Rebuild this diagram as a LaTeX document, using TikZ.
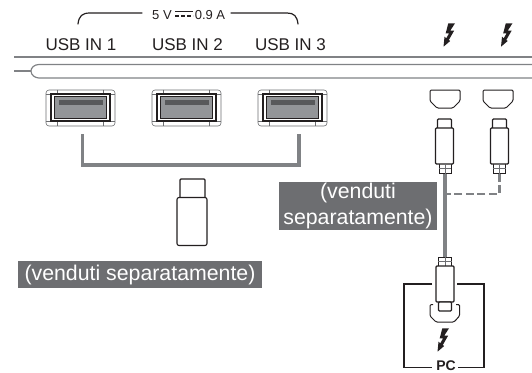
\documentclass[tikz,border=0pt]{standalone}
\usepackage{fontspec}
\setmainfont{Liberation Sans}
\definecolor{gline}{HTML}{6D6E71}
\definecolor{gwire}{HTML}{808285}
\definecolor{gfill}{HTML}{939598}
\definecolor{gdark}{HTML}{58595B}
\definecolor{ink}{HTML}{231F20}
\tikzset{
  usbout/.style={draw=gline,line width=.6pt,rounded corners=3pt,minimum width=69pt,minimum height=36pt,inner sep=0pt,fill=white},
  usbin/.style={draw=ink,line width=1.1pt,fill=white,minimum width=59pt,minimum height=27pt,inner sep=0pt},
  usbfill/.style={draw=ink,line width=.5pt,fill=gfill,minimum width=52pt,minimum height=22pt,inner sep=0pt},
  usbslot/.style={fill=gdark,minimum width=44pt,minimum height=5pt,inner sep=0pt},
  portlabel/.style={font=\fontsize{17}{18}\selectfont,text=ink,inner sep=0pt},
  smalllabel/.style={font=\fontsize{13}{14}\selectfont,text=ink,inner sep=0pt},
  graytag/.style={fill=gline,text=white,font=\fontsize{21.3}{26}\selectfont,inner sep=0pt,align=center},
  wire/.style={draw=gwire,line width=3.2pt},
  thin line/.style={draw=ink,line width=1.2pt,line cap=round},
  body/.style={draw=ink,line width=1.1pt,fill=white,rounded corners=1pt,inner sep=0pt},
  tipbox/.style={draw=ink,line width=.7pt,fill=white,inner sep=0pt,minimum width=12pt,minimum height=9pt},
  boltshape/.pic={\fill[ink] (-1.2,-11.7)--(5.5,-11.7)--(.7,-4.3)--(4.6,-4.3)--(-.7,5)--(.7,6)--(-6,11.7)--(-5,1.7)--(-3.3,3.3)--(-.4,-1.7)--(-3.8,-1.7)--cycle;},
  hdmishape/.pic={\draw[ink,line width=1pt,fill=white,rounded corners=1.2pt] (-15,-9)--(15,-9)--(15,2)--(8,9)--(-8,9)--(-15,2)--cycle;}
}
\begin{document}
\begin{tikzpicture}[x=1pt,y=-1pt]
\useasboundingbox (0,0) rectangle (532,372);
% bracket and voltage
\node[smalllabel] (v1) at (162,15.5) {5 V};
\node[smalllabel] (v2) at (210,15.5) {0.9 A};
\coordinate (bl) at (78,24);
\coordinate (br) at (298,24);
\draw[thin line] (bl) .. controls (79,16) and (82,13) .. (90,13) -- (142,13);
\draw[thin line] (231,13) -- (287,13) .. controls (294,13) and (297,16) .. (br);
\draw[ink,line width=1.3pt] (175,11.5) -- (193,11.5);
\draw[ink,line width=1.3pt,dash pattern=on 4pt off 2pt] (175,16) -- (193,16);
% labels
\node[portlabel] (u1) at (81,44.5) {USB IN 1};
\node[portlabel] (u2) at (187.5,44.5) {USB IN 2};
\node[portlabel] (u3) at (290.5,44.5) {USB IN 3};
% monitor edge
\draw[gwire,line width=2.2pt] (14,57) -- (532,57);
\draw[gwire,line width=1.2pt] (14,71) -- (31,71);
\draw[gwire,line width=1.2pt] (532,64.5) -- (39,64.5) .. controls (34,64.5) and (31,68) .. (31,71) .. controls (31,75) and (35,78) .. (39,78) -- (532,78);
% USB ports and joining wire
\node[usbout] (p1) at (80.5,108) {};
\node[usbout] (p2) at (186.5,108) {};
\node[usbout] (p3) at (292.5,108) {};
\coordinate (wa) at (82.5,134);
\coordinate (wb) at (299,134);
\draw[wire] (wa) |- (299,165) -- (wb);
\foreach \c in {p1,p2,p3}{
  \draw[gline,line width=.5pt] ([xshift=-23pt]\c.north) -- ([xshift=-23pt]\c.south);
  \draw[gline,line width=.5pt] ([xshift=23pt]\c.north) -- ([xshift=23pt]\c.south);
  \draw[gline,line width=.5pt] ([yshift=-5pt]\c.north west) -- ([yshift=-5pt]\c.north east);
  \draw[gline,line width=.5pt] ([yshift=5pt]\c.south west) -- ([yshift=5pt]\c.south east);
  \node[usbin] (\c i) at ([yshift=.5pt]\c.center) {};
  \node[usbfill] (\c f) at (\c i) {};
  \node[usbslot] (\c s) at ([yshift=5pt]\c f.center) {};
}
% stick
\node[body,minimum width=25pt,minimum height=20pt] (sh) at (192.5,189) {};
\node[body,minimum width=30pt,minimum height=48pt,rounded corners=2pt] (sb) at (192,221.5) {};
\node[graytag,minimum width=244pt,minimum height=27pt] (t1) at (140,274.5) {(venduti separatamente)};
% second tag
\node[graytag,minimum width=158pt,minimum height=48pt] (t2) at (358,206) {};
\node[font=\fontsize{21.3}{26}\selectfont,text=white,inner sep=0pt] (t2a) at (358,193) {(venduti};
\node[font=\fontsize{21.3}{26}\selectfont,text=white,inner sep=0pt] (t2b) at (358,219) {separatamente)};
% top right ports
\pic at (445,99) {hdmishape};
\pic at (498,99) {hdmishape};
\pic at (449.5,35) {boltshape};
\pic at (507,35) {boltshape};
% connectors
\node[tipbox,minimum width=12pt,minimum height=10pt] (a3) at (445,168.5) {};
\node[tipbox,minimum width=12pt,minimum height=10pt] (b3) at (499.5,168.5) {};
\node[body,minimum width=14pt,minimum height=10pt] (a1) at (444.5,124) {};
\node[body,minimum width=14pt,minimum height=10pt] (b1) at (499.5,124) {};
\node[body,minimum width=18pt,minimum height=36pt] (a2) at (444.5,146) {};
\node[body,minimum width=18pt,minimum height=36pt] (b2) at (499.5,146) {};
\draw[gline,line width=.6pt] (a3.west) -- (a3.east) (a3.north) -- (a3.south);
\draw[gline,line width=.6pt] (b3.west) -- (b3.east) (b3.north) -- (b3.south);
% bottom PC
\draw[ink,line width=1.1pt] (432,284) -- (404,284) -- (404,367.5) -- (432,367.5);
\draw[ink,line width=1.1pt] (457,284) -- (484,284) -- (484,367.5) -- (458,367.5);
\node[font=\bfseries\fontsize{14}{15}\selectfont,text=ink,inner sep=0pt] (pc) at (446,365.5) {PC};
\draw[ink,line width=1pt,rounded corners=1.2pt] (433,304.5)--(430,304.5)--(430,316)--(436,322)--(454,322)--(459.5,316)--(459.5,304.5)--(456,304.5);
\node[tipbox,minimum width=13pt,minimum height=9pt] (c3) at (445,261.5) {};
\draw[gline,line width=.6pt] (c3.west) -- (c3.east) (c3.north) -- (c3.south);
\node[body,minimum width=18pt,minimum height=36pt] (c2) at (445,284) {};
\node[body,minimum width=13pt,minimum height=9pt] (c1) at (445,306.5) {};
\pic at (443.5,340) {boltshape};
% wires between connectors
\draw[wire] (a3.south) -- (c3.north);
\draw[draw=gwire,line width=2.8pt,dash pattern=on 8pt off 3.5pt] (b3.south) |- (a3.south |- 445,194);
\end{tikzpicture}
\end{document}
